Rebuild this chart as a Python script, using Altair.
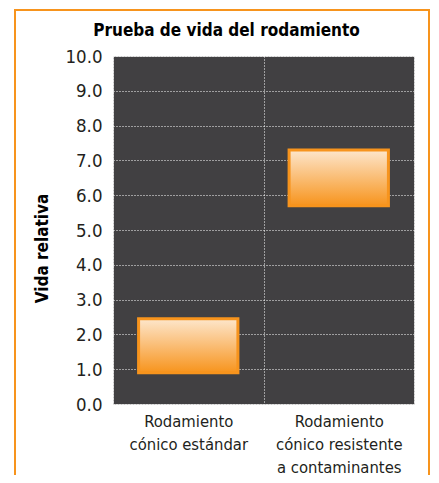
import altair as alt
import pandas as pd

# ---- data ----
categorias = ["Rodamiento\ncónico estándar", "Rodamiento\ncónico resistente\na contaminantes"]
vida_min = [0.9, 5.7]
vida_max = [2.45, 7.3]
y_ticks = [0, 1, 2, 3, 4, 5, 6, 7, 8, 9, 10]

df = pd.DataFrame({"categoria": categorias, "vmin": vida_min, "vmax": vida_max})
frame_df = pd.DataFrame({"k": [0]})

FONT = "Liberation Sans Narrow, DejaVu Sans Condensed, Roboto, sans-serif"
ORANGE = "#f7941d"
TEXT = "#231f20"

frame = alt.Chart(frame_df).mark_rect(
    fill="transparent", stroke=ORANGE, strokeWidth=2
).encode(
    x=alt.value(-98), x2=alt.value(316), y=alt.value(-46), y2=alt.value(440)
)

bars = alt.Chart(df).mark_bar(
    width={"band": 0.66},
    color=alt.Gradient(
        gradient="linear",
        stops=[alt.GradientStop(color="#fde6cc", offset=0),
               alt.GradientStop(color=ORANGE, offset=1)],
        x1=0, x2=0, y1=0, y2=1,
    ),
    stroke=ORANGE,
    strokeWidth=3,
).encode(
    x=alt.X(
        "categoria:N",
        sort=categorias,
        scale=alt.Scale(paddingInner=0, paddingOuter=0),
        axis=alt.Axis(
            title=None, labelAngle=0, labelExpr="split(datum.label, '\\n')",
            tickBand="extent", grid=True, gridColor="white", gridDash=[1, 2],
            gridWidth=1, domain=False, ticks=False,
            labelFont=FONT, labelFontSize=16.5, labelLineHeight=23,
            labelPadding=9, labelColor=TEXT,
        ),
    ),
    y=alt.Y(
        "vmin:Q",
        scale=alt.Scale(domain=[0, 10], nice=False),
        axis=alt.Axis(
            values=y_ticks, format=".1f", title="Vida relativa",
            grid=True, gridColor="white", gridDash=[1, 2], gridWidth=1,
            domain=False, ticks=False,
            labelFont=FONT, labelFontSize=18.5, labelPadding=11, labelColor=TEXT,
            titleFont=FONT, titleFontSize=17, titleFontWeight="bold", titleColor="black",
            titleX=-71, titleY=192, titleBaseline="middle",
        ),
    ),
    y2="vmax:Q",
)

chart = alt.layer(frame, bars).properties(
    width=301,
    height=348,
    title=alt.Title(
        "Prueba de vida del rodamiento", font=FONT, fontSize=17, fontWeight="bold",
        color="black", anchor="middle", dx=-37, offset=-44, baseline="alphabetic",
    ),
    autosize=alt.AutoSizeParams(type="none"),
    padding={"left": 105, "top": 48, "right": 17, "bottom": 71},
    background="white",
).configure_view(
    fill="#414042", stroke="#c4c4c4", strokeWidth=1
)

chart.save("out.html", embed_options={"renderer": "svg", "actions": False})
